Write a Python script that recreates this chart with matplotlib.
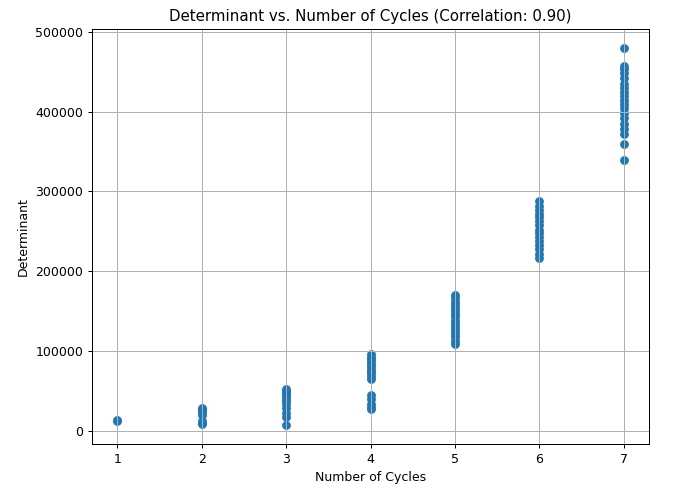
import matplotlib.pyplot as plt
import numpy as np

# number of cycles and determinant values
cycles_1 = [12000, 13500]
cycles_2 = [8000, 10000, 12000, 20000, 23000, 25000, 27000, 28500]
cycles_3 = [7000, 17000, 22000, 28000, 33000, 37000, 40000, 43000, 46000, 48000, 50000, 52000]
cycles_4 = [27000, 30000, 33000, 40000, 45000, 65000, 68000, 72000, 75000, 78000,
            81000, 84000, 87000, 90000, 93000, 96000]
cycles_5 = [109000, 113000, 117000, 120000, 124000, 127000, 131000, 135000, 138000,
            142000, 146000, 150000, 154000, 158000, 162000, 166000, 170000]
cycles_6 = [217000, 222000, 228000, 233000, 238000, 243000, 248000, 252000, 258000,
            263000, 268000, 272000, 277000, 282000, 288000]
cycles_7 = [339000, 359000, 372000, 378000, 385000, 392000, 398000, 405000, 410000,
            415000, 420000, 425000, 430000, 435000, 442000, 448000, 453000, 457000, 480000]

groups = [cycles_1, cycles_2, cycles_3, cycles_4, cycles_5, cycles_6, cycles_7]
x = np.concatenate([[i + 1] * len(g) for i, g in enumerate(groups)])
y = np.concatenate(groups)

corr = 0.90

# drawn at a slightly lower dpi so text and markers come out a bit smaller
plt.figure(figsize=(673/90, 491/90), dpi=90)
plt.scatter(x, y)
plt.title(f"Determinant vs. Number of Cycles (Correlation: {corr:.2f})")
plt.xlabel("Number of Cycles")
plt.ylabel("Determinant")
plt.grid(True)
plt.subplots_adjust(left=92/673, right=649/673, top=1 - 29/491, bottom=1 - 444/491)
plt.savefig("out.png", dpi=90)
